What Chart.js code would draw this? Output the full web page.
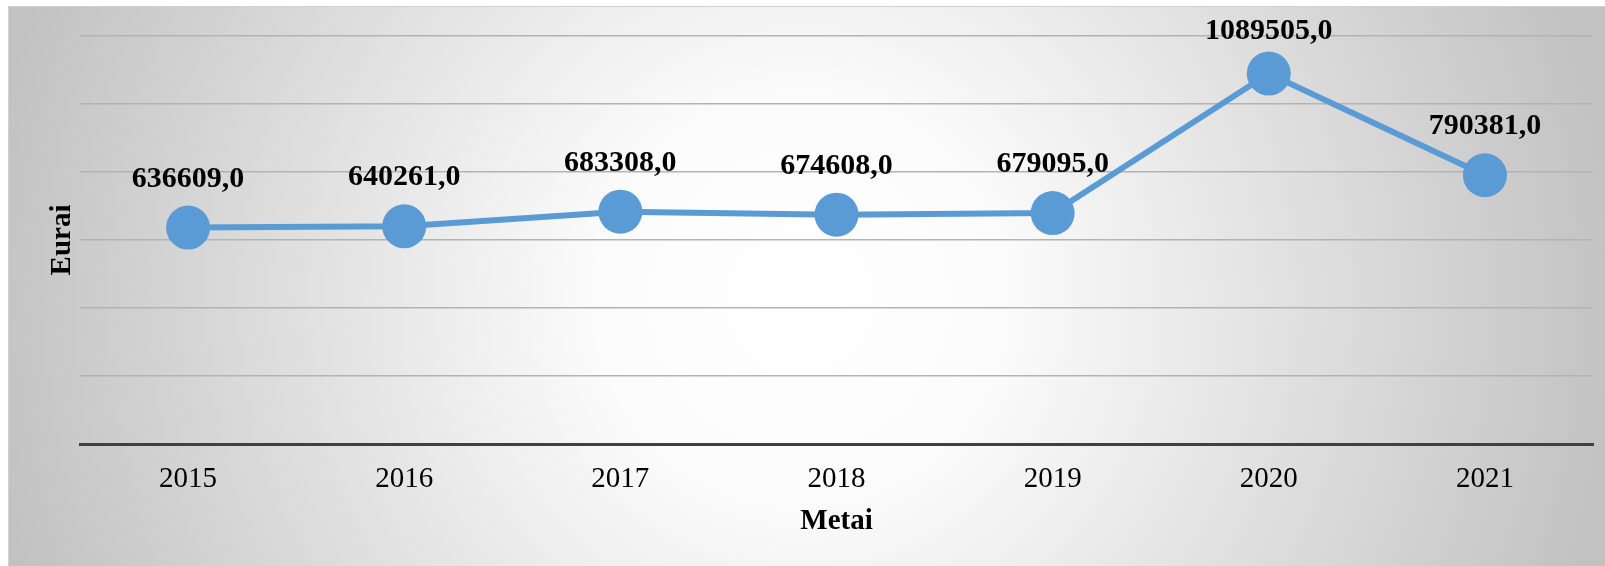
<!DOCTYPE html>
<html>
<head>
<meta charset="utf-8">
<script src="https://cdn.jsdelivr.net/npm/chart.js@4/dist/chart.umd.min.js"></script>
<style>
  html, body { margin: 0; padding: 0; background: #ffffff; }
  #wrap { width: 1605px; height: 566px; position: relative; }
</style>
</head>
<body>
<div id="wrap"><canvas id="c" width="1605" height="566"></canvas></div>
<script>
const categories = ['2015', '2016', '2017', '2018', '2019', '2020', '2021'];
const values = [636609, 640261, 683308, 674608, 679095, 1089505, 790381];
const valueLabels = ['636609,0', '640261,0', '683308,0', '674608,0', '679095,0', '1089505,0', '790381,0'];
const yMin = 0, yMax = 1200000, yStep = 200000;
const xTitle = 'Metai';
const yTitle = 'Eurai';

const bgPlugin = {
  id: 'bg',
  beforeDraw(chart) {
    const ctx = chart.ctx;
    ctx.save();
    ctx.fillStyle = '#ffffff';
    ctx.fillRect(0, 0, chart.width, chart.height);
    const g = ctx.createRadialGradient(800, 300, 0, 800, 300, 820);
    g.addColorStop(0, '#ffffff');
    g.addColorStop(0.25, '#fbfbfb');
    g.addColorStop(1, '#c2c2c2');
    ctx.fillStyle = g;
    ctx.fillRect(8, 6, chart.width - 8, chart.height - 6);
    ctx.strokeStyle = '#d0d0d0';
    ctx.lineWidth = 1;
    ctx.strokeRect(8.5, 6.5, chart.width - 8, chart.height - 6);
    ctx.restore();
  }
};

const labelPlugin = {
  id: 'dlabels',
  afterDatasetsDraw(chart) {
    const ctx = chart.ctx;
    const meta = chart.getDatasetMeta(0);
    ctx.save();
    ctx.font = 'bold 30px "Liberation Serif", "Times New Roman", serif';
    ctx.fillStyle = '#000000';
    ctx.textAlign = 'center';
    ctx.textBaseline = 'alphabetic';
    meta.data.forEach((pt, i) => {
      const y = Math.max(pt.y - 41, 39);
      ctx.fillText(valueLabels[i], pt.x, y);
    });
    ctx.restore();
  }
};

new Chart(document.getElementById('c'), {
  type: 'line',
  data: {
    labels: categories,
    datasets: [{
      data: values,
      borderColor: '#5b9bd5',
      backgroundColor: '#5b9bd5',
      borderWidth: 6,
      pointRadius: 22,
      pointHoverRadius: 22,
      pointBorderWidth: 0,
      pointBackgroundColor: '#5b9bd5',
      tension: 0,
      fill: false,
      clip: false
    }]
  },
  options: {
    responsive: false,
    animation: false,
    devicePixelRatio: 1,
    layout: { autoPadding: false, padding: { left: 0, right: 12, top: 36, bottom: 0 } },
    plugins: {
      legend: { display: false },
      tooltip: { enabled: false }
    },
    scales: {
      x: {
        offset: true,
        grid: { display: false, drawTicks: false },
        border: { display: true, color: '#404040', width: 3 },
        ticks: {
          padding: 18,
          color: '#000000',
          font: { family: '"Liberation Serif", "Times New Roman", serif', size: 29 }
        },
        title: {
          display: true,
          text: xTitle,
          color: '#000000',
          font: { family: '"Liberation Serif", "Times New Roman", serif', size: 29, weight: 'bold' },
          padding: { top: 0, bottom: 27 }
        },
        afterFit(s) { s.height = 122; }
      },
      y: {
        min: yMin,
        max: yMax,
        ticks: { display: false, stepSize: yStep },
        grid: {
          drawTicks: false,
          color: (c) => c.tick && c.tick.value === 0 ? 'rgba(0,0,0,0)' : '#b3b3b3',
          lineWidth: 1.5
        },
        border: { display: false },
        title: {
          display: true,
          text: yTitle,
          color: '#000000',
          font: { family: '"Liberation Serif", "Times New Roman", serif', size: 29, weight: 'bold' },
          padding: { top: 45, bottom: 0 }
        },
        afterFit(s) { s.width = 80; }
      }
    }
  },
  plugins: [bgPlugin, labelPlugin]
});
</script>
</body>
</html>
